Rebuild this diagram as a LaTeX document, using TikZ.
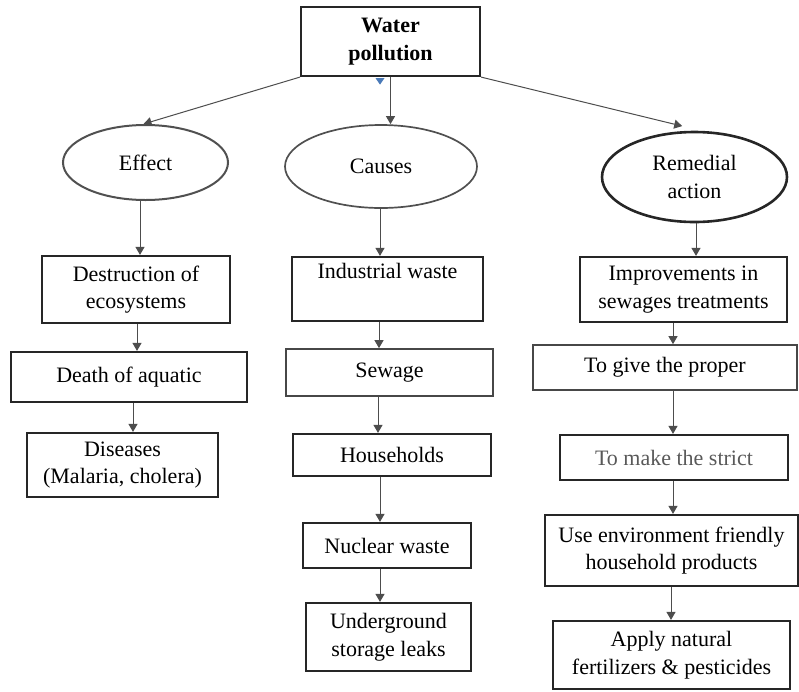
\documentclass[tikz,border=0pt]{standalone}
\usepackage{fontspec}
\setmainfont{Liberation Serif}
\usetikzlibrary{arrows.meta,shapes.geometric}
\definecolor{boxline}{HTML}{262626}
\definecolor{ellline}{HTML}{505050}
\definecolor{conline}{HTML}{4D4D4D}
\definecolor{tipblue}{HTML}{4A7AB8}
\tikzset{
  txt/.style={font=\fontsize{22}{27.5}\selectfont, align=center, inner sep=0pt},
  box/.style={txt, draw=boxline, line width=2.2pt, rectangle},
  thinbox/.style={txt, draw=boxline!85, line width=1.7pt, rectangle},
  oval/.style={txt, draw=ellline, line width=2pt, ellipse},
  arr/.style={draw=conline, line width=1pt, -{Triangle[width=9pt,length=8pt]}}
}
\begin{document}
\begin{tikzpicture}[x=1pt,y=-1pt]
\useasboundingbox (0,0) rectangle (799,691);
% top
\node[box, minimum width=179, minimum height=69] (top) at (390.5,41.5) {\bfseries Water\\\bfseries pollution};
% ellipses
\node[oval, minimum width=165, minimum height=75] (effect) at (145.5,162.5) {Effect};
\node[oval, line width=1.7pt, minimum width=192, minimum height=83] (causes) at (381,166.5) {Causes};
\node[oval, draw=boxline, line width=2.6pt, minimum width=185, minimum height=90] (remedial) at (694.5,177) {Remedial\\action};
% effect column
\node[box, minimum width=188, minimum height=67] (destr) at (136,289.5) {Destruction of\\ecosystems};
\node[box, minimum width=236, minimum height=50] (death) at (129,377) {Death of aquatic};
\node[box, minimum width=191, minimum height=64] (dis) at (122.5,465) {Diseases\\(Malaria, cholera)};
% causes column
\node[box, minimum width=191, minimum height=64] (ind) at (387.5,289) {Industrial waste\\\strut};
\node[thinbox, minimum width=207, minimum height=47] (sew) at (389.5,372.5) {Sewage};
\node[box, minimum width=198, minimum height=42] (house) at (392,455) {Households};
\node[box, minimum width=168, minimum height=45] (nuc) at (387,545.5) {Nuclear waste};
\node[box, minimum width=165, minimum height=68] (under) at (388.5,637) {Underground\\storage leaks};
% remedial column
\node[box, minimum width=207, minimum height=65] (impr) at (683.5,289.5) {Improvements in\\sewages treatments};
\node[thinbox, minimum width=264, minimum height=45] (give) at (665,367.5) {To give the proper};
\node[box, minimum width=228, minimum height=45, text=black!65] (strict) at (674,457.5) {To make the strict};
\node[box, minimum width=253, minimum height=71] (use) at (671.5,550.5) {Use environment friendly\\household products};
\node[box, minimum width=237, minimum height=68] (apply) at (671.5,655) {Apply natural\\fertilizers \& pesticides};
% blue marker
\fill[tipblue] ([xshift=-15pt,yshift=-1pt]top.south) -- ([xshift=-6pt,yshift=-1pt]top.south) -- ([xshift=-10.5pt,yshift=-7.5pt]top.south) -- cycle;
% connectors from top
\draw[arr] (top.south west) -- ([xshift=-2pt]effect.north);
\draw[arr] (top.south) -- (top.south |- causes.north);
\draw[arr] (top.south east) -- ([yshift=5pt]remedial.105);
% effect column
\draw[arr] ([xshift=-5.5pt]effect.south) -- ([xshift=-5.5pt]effect.south |- destr.north);
\draw[arr] ([xshift=1pt]destr.south) -- ([xshift=1pt]destr.south |- death.north);
\draw[arr] ([xshift=4pt]death.south) -- ([xshift=4pt]death.south |- dis.north);
% causes column
\draw[arr] ([xshift=-1pt]causes.south) -- ([xshift=-1pt]causes.south |- ind.north);
\draw[arr] ([xshift=-8.5pt]ind.south) -- ([xshift=-8.5pt]ind.south |- sew.north);
\draw[arr] ([xshift=-11.5pt]sew.south) -- ([xshift=-11.5pt]sew.south |- house.north);
\draw[arr] ([xshift=-12pt]house.south) -- ([xshift=-12pt]house.south |- nuc.north);
\draw[arr] ([xshift=-7pt]nuc.south) -- ([xshift=-7pt]nuc.south |- under.north);
% remedial column
\draw[arr] ([xshift=1.5pt]remedial.south) -- ([xshift=1.5pt]remedial.south |- impr.north);
\draw[arr] ([xshift=-10.5pt]impr.south) -- ([xshift=-10.5pt]impr.south |- give.north);
\draw[arr] ([xshift=8pt]give.south) -- ([xshift=8pt]give.south |- strict.north);
\draw[arr] ([xshift=-1pt]strict.south) -- ([xshift=-1pt]strict.south |- use.north);
\draw[arr] ([xshift=-0.5pt]use.south) -- ([xshift=-0.5pt]use.south |- apply.north);
\end{tikzpicture}
\end{document}
